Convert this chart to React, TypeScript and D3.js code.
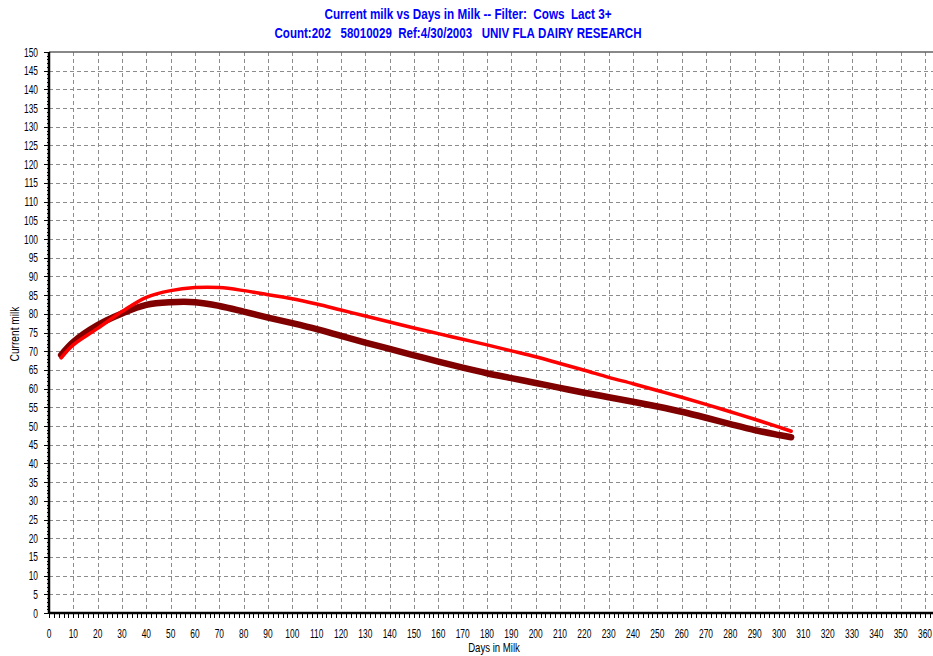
import * as d3 from 'd3';

// days in milk at which the curves were sampled
const days = [5, 10, 20, 30, 40, 50, 60, 70, 80, 90, 100, 110, 120, 130, 140, 150, 160, 170, 180, 190, 200, 210, 220, 230, 240, 250, 260, 270, 280, 290, 300, 305];
// dark red (thick) curve
const milkDark = [69, 72.5, 77, 80.1, 82.4, 83.1, 83.1, 82.1, 80.6, 79.0, 77.5, 75.9, 74.1, 72.3, 70.6, 68.9, 67.2, 65.6, 64.1, 62.8, 61.5, 60.2, 58.9, 57.7, 56.5, 55.2, 53.8, 52.2, 50.5, 48.9, 47.6, 47];
// bright red (thin) curve
const milkRed = [68.2, 71.7, 76.1, 80.6, 84.4, 86.2, 87.0, 87.0, 86.2, 85.1, 84.0, 82.6, 81.0, 79.4, 77.8, 76.2, 74.7, 73.2, 71.7, 70.1, 68.5, 66.7, 64.9, 63.0, 61.3, 59.5, 57.7, 55.8, 53.8, 51.8, 49.7, 48.6];

const xTicks = d3.range(0, 361, 10);
const yTicks = d3.range(0, 151, 5);
const titleLines = [
  'Current milk vs Days in Milk -- Filter:  Cows  Lact 3+',
  'Count:202   58010029  Ref:4/30/2003   UNIV FLA DAIRY RESEARCH',
];

const W = 933;
const H = 656;

// keep the runs of spaces in the title
const keepSpaces = (s: string) => s.replace(/ /g, '\u00a0');

export default function App() {
  const x = d3.scaleLinear().domain([0, 360]).range([49, 925]);
  const y = d3.scaleLinear().domain([0, 150]).range([613, 52]);
  const left = x(0);
  const right = W;

  const line = d3
    .line<number>()
    .x((d, i) => x(days[i]))
    .y(d => y(d))
    .curve(d3.curveCatmullRom.alpha(0.5));

  const font = 'Arial, "Liberation Sans", sans-serif';

  return (
    <svg width={W} height={H} style={{ position: 'absolute', left: 0, top: 0, background: '#fff' }}>
      <rect width={W} height={H} fill="#fff" />
      {/* title */}
      <g fill="#0000ff" fontFamily={font} fontWeight="bold" fontSize={14}>
        <text x={468} y={19} textAnchor="middle" textLength={287} lengthAdjust="spacingAndGlyphs">{keepSpaces(titleLines[0])}</text>
        <text x={458} y={38} textAnchor="middle" textLength={367} lengthAdjust="spacingAndGlyphs">{keepSpaces(titleLines[1])}</text>
      </g>

      {/* grid */}
      <g stroke="#8c8c8c" strokeDasharray="4,3" strokeWidth={1}>
        {yTicks.filter(t => t > 0 && t < 150).map(t => (
          <line key={'h' + t} x1={left} x2={right} y1={Math.round(y(t)) + 0.5} y2={Math.round(y(t)) + 0.5} />
        ))}
        {xTicks.filter(t => t > 0).map(t => (
          <line key={'v' + t} x1={Math.round(x(t)) + 0.5} x2={Math.round(x(t)) + 0.5} y1={y(150)} y2={y(0)} />
        ))}
      </g>
      <line x1={left} x2={right} y1={y(150)} y2={y(150)} stroke="#606060" strokeWidth={1.5} />

      {/* curves */}
      <path d={line(milkDark) || ''} fill="none" stroke="#800000" strokeWidth={6.5} strokeLinecap="round" />
      <path d={line(milkRed) || ''} fill="none" stroke="#ff0000" strokeWidth={3.5} strokeLinecap="round" />

      {/* axes */}
      <line x1={left} x2={right} y1={y(0)} y2={y(0)} stroke="#000" strokeWidth={2.5} />
      <line x1={left} x2={left} y1={y(150)} y2={y(0)} stroke="#000" strokeWidth={2.5} />
      <g stroke="#000" strokeWidth={1}>
        {d3.range(0, 363, 2).map(t => (
          <line key={'xt' + t} x1={Math.round(x(t)) + 0.5} x2={Math.round(x(t)) + 0.5} y1={y(0)} y2={y(0) + 5} />
        ))}
        {yTicks.map(t => (
          <line key={'yt' + t} x1={left - 5} x2={left} y1={Math.round(y(t)) + 0.5} y2={Math.round(y(t)) + 0.5} />
        ))}
        {d3.range(0, 151, 1).map(t => (
          <line key={'ym' + t} x1={left - 2} x2={left} y1={Math.round(y(t)) + 0.5} y2={Math.round(y(t)) + 0.5} />
        ))}
      </g>
      <g fontFamily={font} fontSize={12} fill="#000">
        {xTicks.map(t => (
          <text key={'xl' + t} transform={`translate(${x(t)},638) scale(0.7,1)`} textAnchor="middle">{t}</text>
        ))}
        {yTicks.map(t => (
          <text key={'yl' + t} transform={`translate(38,${y(t) + 4.5}) scale(0.7,1)`} textAnchor="end">{t}</text>
        ))}
        <text transform="translate(494,652) scale(0.8,1)" textAnchor="middle">Days in Milk</text>
        <text transform="translate(19,334) rotate(-90) scale(0.85,1)" textAnchor="middle">Current milk</text>
      </g>
    </svg>
  );
}
